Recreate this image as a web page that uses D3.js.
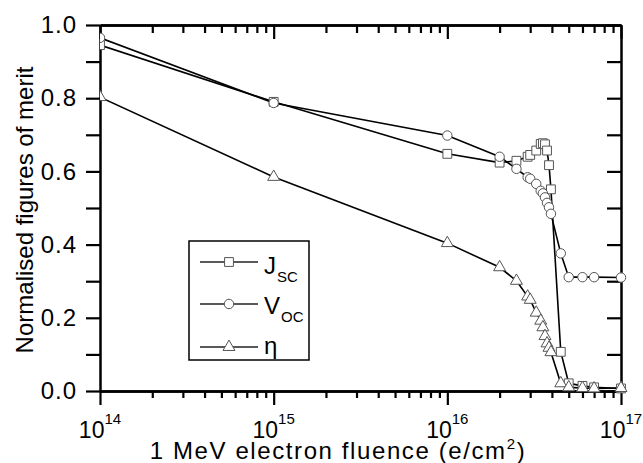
<!DOCTYPE html>
<html>
<head>
<meta charset="utf-8">
<script src="https://cdn.jsdelivr.net/npm/d3@7"></script>
<style>
  body { margin: 0; background: #fff; }
  text { font-family: "Liberation Sans", Arial, sans-serif; fill: #000; }
</style>
</head>
<body>
<svg id="chart" width="643" height="463"></svg>
<script>
// fluence (e/cm^2), shared by all three series
var fluence = [1e14, 1e15, 1e16, 2e16, 2.5e16, 2.9e16, 3.0e16, 3.25e16, 3.45e16, 3.55e16,
               3.65e16, 3.75e16, 3.85e16, 3.95e16, 4.5e16, 5e16, 6e16, 7e16, 1e17];
var jsc = [0.945, 0.790, 0.648, 0.624, 0.629, 0.640, 0.645, 0.657, 0.675, 0.677,
           0.674, 0.657, 0.617, 0.551, 0.107, 0.021, 0.014, 0.010, 0.007];
var voc = [0.965, 0.787, 0.698, 0.640, 0.607, 0.584, 0.580, 0.566, 0.547, 0.540,
           0.529, 0.514, 0.502, 0.484, 0.376, 0.311, 0.311, 0.311, 0.310];
var eta = [0.803, 0.585, 0.404, 0.338, 0.301, 0.258, 0.249, 0.214, 0.192, 0.174,
           0.150, 0.130, 0.118, 0.106, 0.021, 0.010, 0.008, 0.007, 0.008];

var xMajor = [1e14, 1e15, 1e16, 1e17];
var xExp = ['14', '15', '16', '17'];
var yTickValues = [0, 0.1, 0.2, 0.3, 0.4, 0.5, 0.6, 0.7, 0.8, 0.9, 1.0];
var seriesNames = ['J', 'V', '\u03b7'];
var seriesSubs = ['SC', 'OC', ''];

var margin = {top: 25, right: 22, bottom: 72, left: 100},
    width = 643 - margin.left - margin.right,
    height = 463 - margin.top - margin.bottom;

var svg = d3.select('#chart');
var g = svg.append('g').attr('transform', 'translate(' + margin.left + ',' + margin.top + ')');

var x = d3.scaleLog().domain([1e14, 1e17]).range([0, width]);
var y = d3.scaleLinear().domain([0, 1]).range([height, 0]);

// minor ticks 2..9 for each decade
var xMinor = [];
xMajor.slice(0, 3).forEach(function(d) {
  for (var k = 2; k <= 9; k++) xMinor.push(d * k);
});

function styleAxis(sel) {
  sel.selectAll('path.domain').attr('stroke', '#000').attr('stroke-width', 2.5);
  sel.selectAll('.tick line').attr('stroke', '#000').attr('stroke-width', 2.2);
}

// bottom axis: major + minor ticks pointing out
g.append('g').attr('transform', 'translate(0,' + height + ')')
  .call(d3.axisBottom(x).tickValues(xMajor).tickSize(14).tickSizeOuter(0).tickFormat(''))
  .call(styleAxis);
g.append('g').attr('transform', 'translate(0,' + height + ')')
  .call(d3.axisBottom(x).tickValues(xMinor).tickSize(7).tickSizeOuter(0).tickFormat(''))
  .call(styleAxis);

// top axis: ticks pointing in
g.append('g')
  .call(d3.axisBottom(x).tickValues(xMajor).tickSize(14).tickSizeOuter(0).tickFormat(''))
  .call(styleAxis);
g.append('g')
  .call(d3.axisBottom(x).tickValues(xMinor).tickSize(8).tickSizeOuter(0).tickFormat(''))
  .call(styleAxis);

// left axis
var yAxis = g.append('g')
  .call(d3.axisLeft(y).tickValues(yTickValues).tickSize(14).tickSizeOuter(0).tickPadding(9)
    .tickFormat(function(d, i) { return i % 2 === 0 ? d3.format('.1f')(d) : ''; }))
  .call(styleAxis);
yAxis.selectAll('.tick text')
  .attr('font-size', 24)
  .attr('letter-spacing', 1)
  .attr('font-family', '"Liberation Sans", Arial, sans-serif');

// right axis, ticks pointing in
g.append('g').attr('transform', 'translate(' + width + ',0)')
  .call(d3.axisLeft(y).tickValues(yTickValues).tickSize(14).tickSizeOuter(0).tickFormat(''))
  .call(styleAxis);

// x tick labels with superscript exponents
var xLabels = g.append('g').selectAll('text')
  .data(xMajor)
  .enter().append('text')
  .attr('x', function(d) { return x(d); })
  .attr('y', height + 47)
  .attr('text-anchor', 'middle')
  .attr('font-size', 23);
xLabels.append('tspan').text('10');
xLabels.append('tspan').attr('dy', -14).attr('font-size', 15).text(function(d, i) { return xExp[i]; });

// axis titles
var xTitle = svg.append('text')
  .attr('x', 338).attr('y', 459)
  .attr('text-anchor', 'middle')
  .attr('font-size', 24)
  .attr('letter-spacing', 1.6);
xTitle.append('tspan').text('1 MeV electron fluence (e/cm');
xTitle.append('tspan').attr('dy', -10).attr('font-size', 15).text('2');
xTitle.append('tspan').attr('dy', 10).text(')');

svg.append('text')
  .attr('transform', 'translate(33,' + (margin.top + height / 2 + 2) + ') rotate(-90)')
  .attr('text-anchor', 'middle')
  .attr('font-size', 24)
  .text('Normalised figures of merit');

// clip for data
g.append('clipPath').attr('id', 'plotclip')
  .append('rect').attr('x', 0).attr('y', -10).attr('width', width + 10).attr('height', height + 20);

var plot = g.append('g').attr('clip-path', 'url(#plotclip)');

var series = [jsc, voc, eta];
var symbols = [d3.symbolSquare, d3.symbolCircle, d3.symbolTriangle];
var symSizes = [78, 70, 62];

var line = d3.line()
  .x(function(d, i) { return x(fluence[i]); })
  .y(function(d) { return y(d); });

series.forEach(function(s) {
  plot.append('path')
    .datum(s)
    .attr('d', line)
    .attr('fill', 'none')
    .attr('stroke', '#000')
    .attr('stroke-width', 1.6);
});

series.forEach(function(s, si) {
  plot.append('g').selectAll('path')
    .data(s)
    .enter().append('path')
    .attr('transform', function(d, i) { return 'translate(' + x(fluence[i]) + ',' + y(d) + ')'; })
    .attr('d', d3.symbol().type(symbols[si]).size(symSizes[si]))
    .attr('fill', '#fff')
    .attr('stroke', '#555')
    .attr('stroke-width', 1);
});

// legend
var legend = svg.append('g').attr('transform', 'translate(189,241)');
legend.append('rect')
  .attr('width', 120).attr('height', 119)
  .attr('fill', '#fff')
  .attr('stroke', '#000')
  .attr('stroke-width', 1.5);

var rowY = [21, 63, 106];
var baseOff = [12, 10, 7];
seriesNames.forEach(function(name, i) {
  var row = legend.append('g').attr('transform', 'translate(0,' + rowY[i] + ')');
  row.append('line')
    .attr('x1', 11).attr('x2', 69)
    .attr('stroke', '#222').attr('stroke-width', 1.5);
  row.append('path')
    .attr('transform', 'translate(40,0)')
    .attr('d', d3.symbol().type(symbols[i]).size(symSizes[i]))
    .attr('fill', '#fff').attr('stroke', '#555').attr('stroke-width', 1);
  var t = row.append('text')
    .attr('x', 75).attr('y', baseOff[i])
    .attr('font-size', 24);
  t.append('tspan').text(name);
  if (seriesSubs[i]) {
    t.append('tspan').attr('dy', 8).attr('dx', 1).attr('font-size', 15).text(seriesSubs[i]);
  }
});
</script>
</body>
</html>
